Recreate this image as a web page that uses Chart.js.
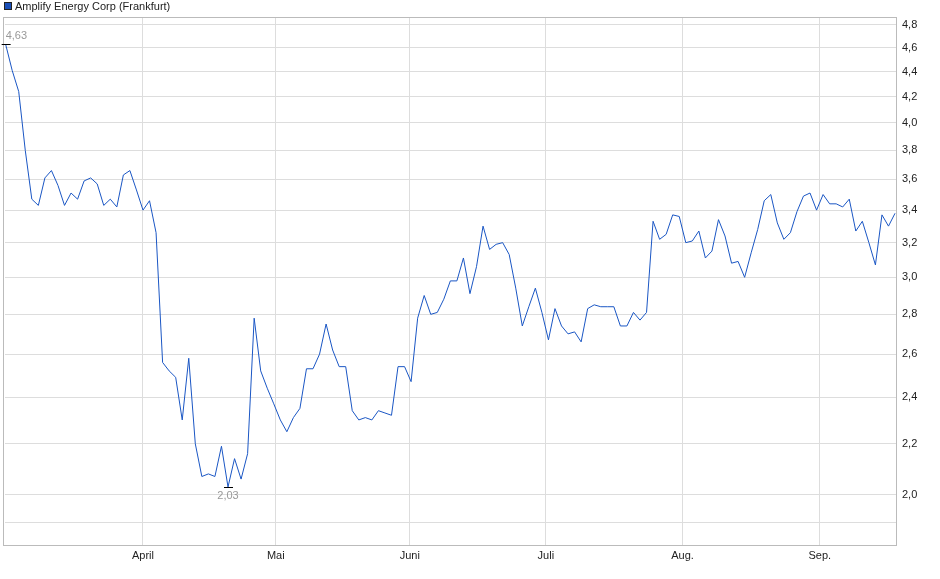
<!DOCTYPE html>
<html><head><meta charset="utf-8">
<script src="https://cdn.jsdelivr.net/npm/chart.js@4"></script>
<style>html,body{margin:0;padding:0;background:#fff}#w{width:940px;height:579px}</style>
</head><body><div id="w"><canvas id="c"></canvas></div>
<script>
const seriesName = "Amplify Energy Corp (Frankfurt)";
const prices = [4.63,4.41,4.24,3.80,3.47,3.43,3.61,3.66,3.56,3.43,3.51,3.47,3.59,3.61,3.57,3.43,3.47,3.42,3.63,3.66,
3.53,3.40,3.46,3.26,2.56,2.52,2.49,2.30,2.58,2.20,2.07,2.08,2.07,2.19,2.03,2.14,2.06,2.16,2.78,2.52,
2.44,2.37,2.30,2.25,2.31,2.35,2.53,2.53,2.60,2.75,2.62,2.54,2.54,2.34,2.30,2.31,2.30,2.34,2.33,2.32,
2.54,2.54,2.47,2.78,2.90,2.80,2.81,2.88,2.98,2.98,3.11,2.91,3.06,3.30,3.16,3.19,3.20,3.13,2.94,2.74,
2.84,2.94,2.81,2.67,2.83,2.74,2.70,2.71,2.66,2.83,2.85,2.84,2.84,2.84,2.74,2.74,2.81,2.77,2.81,3.33,
3.22,3.25,3.37,3.36,3.20,3.21,3.27,3.11,3.15,3.34,3.24,3.08,3.09,3.00,3.14,3.28,3.46,3.50,3.32,3.22,
3.26,3.39,3.49,3.51,3.40,3.50,3.44,3.44,3.42,3.47,3.27,3.33,3.20,3.07,3.37,3.30,3.38];
const monthTickPos = [21.0,41.3,61.8,82.6,103.5,124.5];
const monthLabels = ["April","Mai","Juni","Juli","Aug.","Sep."];
const yTicks = [1.9,2.0,2.2,2.4,2.6,2.8,3.0,3.2,3.4,3.6,3.8,4.0,4.2,4.4,4.6,4.8];
const hiLabel = {i:0, v:4.63, text:"4,63"};
const loLabel = {i:34, v:2.03, text:"2,03"};

const pts = prices.map((v,i)=>({x:i,y:v}));
const deco = {
  id:'deco',
  afterDraw(ch){
    const c=ch.ctx, xs=ch.scales.x, ys=ch.scales.y, a=ch.chartArea;
    c.save();
    // legend
    c.fillStyle='#1a4fb8'; c.fillRect(4.5,2.5,7,7);
    c.strokeStyle='#222'; c.lineWidth=1; c.strokeRect(4.5,2.5,7,7);
    c.fillStyle='#222'; c.font='11px Arial, "Liberation Sans", sans-serif'; c.textBaseline='middle';
    c.fillText(seriesName,15,6.5);
    // border
    c.strokeStyle='#bbb'; c.strokeRect(a.left-1.5,a.top+0.5,a.right-a.left+1,a.bottom-a.top);
    // hi/lo marks
    c.strokeStyle='#000'; c.font='11px Arial, "Liberation Sans", sans-serif'; c.fillStyle='#999';
    let x=xs.getPixelForValue(hiLabel.i), y=ys.getPixelForValue(hiLabel.v);
    c.beginPath(); c.moveTo(x-4,Math.round(y)+0.5); c.lineTo(x+5,Math.round(y)+0.5); c.stroke();
    c.textAlign='left'; c.textBaseline='bottom'; c.fillText(hiLabel.text,x,y-3);
    x=xs.getPixelForValue(loLabel.i); y=ys.getPixelForValue(loLabel.v);
    c.beginPath(); c.moveTo(x-4,Math.round(y)+0.5); c.lineTo(x+5,Math.round(y)+0.5); c.stroke();
    c.textAlign='center'; c.textBaseline='top'; c.fillText(loLabel.text,x,y+3);
    c.restore();
  }
};
new Chart(document.getElementById('c'),{
  type:'line',
  data:{datasets:[{data:pts,borderColor:'#1a56c4',borderWidth:1,pointRadius:0,tension:0,fill:false}]},
  options:{
    responsive:true,maintainAspectRatio:false,animation:false,
    layout:{padding:{left:5,top:17,right:0,bottom:0}},
    plugins:{legend:{display:false},tooltip:{enabled:false}},
    scales:{
      x:{type:'linear',min:-0.1,max:136.3,
        afterBuildTicks(s){s.ticks=monthTickPos.map(v=>({value:v}));},
        afterFit(s){s.height=34;},
        grid:{color:'#ddd',drawTicks:false},border:{display:false},
        ticks:{maxRotation:0,autoSkip:false,padding:4,color:'#222',font:{size:11,family:'Arial, "Liberation Sans", sans-serif'},
          callback:(v,i)=>monthLabels[i]}},
      y:{type:'logarithmic',position:'right',min:1.822,max:4.872,
        afterBuildTicks(s){s.ticks=yTicks.map(v=>({value:v}));},
        afterFit(s){s.width=43;},
        grid:{color:'#ddd',drawTicks:false},border:{display:false},
        ticks:{padding:5,color:'#222',font:{size:11,family:'Arial, "Liberation Sans", sans-serif'},
          callback:(v)=>v<2?'':v.toFixed(1).replace('.',','),autoSkip:false}}
    }
  },
  plugins:[deco]
});
</script></body></html>
